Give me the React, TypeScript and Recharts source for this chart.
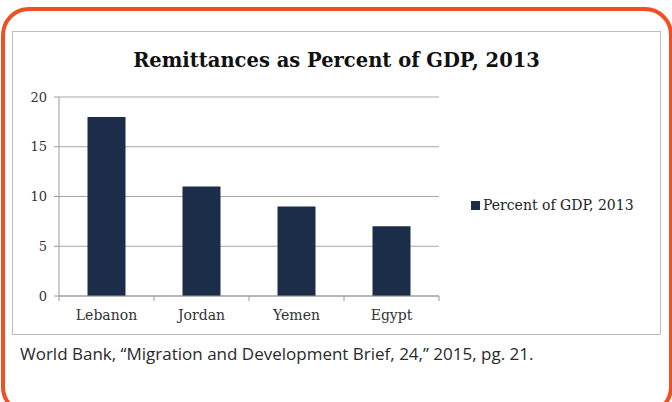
import React from 'react';
import { BarChart, Bar, XAxis, YAxis, CartesianGrid, Legend } from 'recharts';

const countries = ['Lebanon', 'Jordan', 'Yemen', 'Egypt'];
const percentOfGdp = [18, 11, 9, 7];
const yTicks = [0, 5, 10, 15, 20];
const seriesName = 'Percent of GDP, 2013';

const data = countries.map((name, i) => ({ name, value: percentOfGdp[i] }));

const NAVY = '#1c2d49';
const serif = '"DejaVu Serif", "Liberation Serif", serif';

// category label plus the little tick marks at band boundaries
const CategoryTick = (props: any) => {
  const { x, y, payload, index, visibleTicksCount } = props;
  const half = payload && payload.offset ? payload.offset : 47.5;
  const axisY = y - 14;
  return (
    <g>
      <line x1={x - half} x2={x - half} y1={axisY} y2={axisY + 5} stroke="#9a9a9a" />
      {index === visibleTicksCount - 1 && (
        <line x1={x + half} x2={x + half} y1={axisY} y2={axisY + 5} stroke="#9a9a9a" />
      )}
      <text x={x} y={y} dy="0.71em" textAnchor="middle" fill="#333" fontSize={14} fontFamily={serif}>
        {payload.value}
      </text>
    </g>
  );
};

const LegendBox = () => (
  <div style={{ display: 'flex', alignItems: 'center', fontFamily: serif, fontSize: 14, color: '#222' }}>
    <span style={{ width: 9, height: 9, background: NAVY, marginRight: 3, display: 'inline-block' }} />
    {seriesName}
  </div>
);

export default function App() {
  return (
    <div style={{ position: 'absolute', left: 0, top: 0, width: 672, height: 402, background: '#fff', overflow: 'hidden' }}>
      <div
        style={{
          position: 'absolute', left: 1, top: 7, width: 664, height: 400,
          border: '4px solid #f04e23', borderRadius: 28,
        }}
      />
      <div
        style={{
          position: 'absolute', left: 12, top: 31, width: 647, height: 302,
          border: '1px solid #bdbdbd', background: '#fff',
        }}
      >
        <div
          style={{
            position: 'absolute', left: 0, width: 647, top: 17, textAlign: 'center',
            fontFamily: serif, fontWeight: 'bold', fontSize: 19.5, color: '#111',
          }}
        >
          Remittances as Percent of GDP, 2013
        </div>
        <BarChart
          width={647}
          height={302}
          data={data}
          margin={{ top: 65, right: 41, bottom: 8, left: 0 }}
          barCategoryGap="30%"
        >
          <CartesianGrid vertical={false} stroke="#a8a8a8" />
          <XAxis
            dataKey="name"
            tickLine={false}
            tickSize={5}
            tickMargin={9}
            height={30}
            stroke="#9a9a9a"
            tick={<CategoryTick />}
            interval={0}
          />
          <YAxis
            width={46}
            domain={[0, 20]}
            ticks={yTicks}
            tickSize={5}
            tickMargin={7}
            stroke="#9a9a9a"
            tick={{ fill: '#333', fontSize: 13, fontFamily: serif }}
          />
          <Legend
            layout="vertical"
            align="right"
            verticalAlign="middle"
            content={<LegendBox />}
            wrapperStyle={{ left: 458, top: 165, width: 180 }}
          />
          <Bar dataKey="value" name={seriesName} fill={NAVY} isAnimationActive={false} />
        </BarChart>
      </div>
      <div
        style={{
          position: 'absolute', left: 20, top: 342, fontFamily: '"Open Sans", sans-serif',
          fontSize: 17, color: '#2a2a2a',
        }}
      >
        World Bank, “Migration and Development Brief, 24,” 2015, pg. 21.
      </div>
    </div>
  );
}
